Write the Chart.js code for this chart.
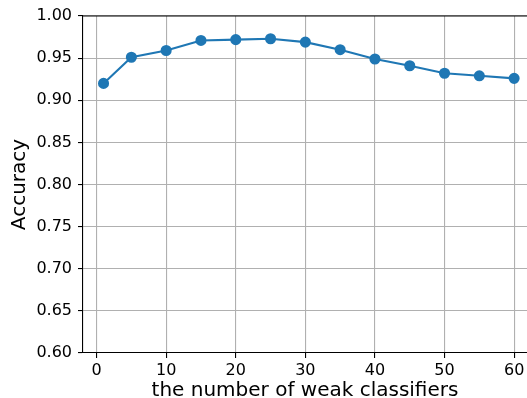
<!DOCTYPE html>
<html>
<head>
<meta charset="utf-8">
<script src="https://cdn.jsdelivr.net/npm/chart.js@4"></script>
<style>
  html, body { margin: 0; padding: 0; background: #fff; }
  #wrap { width: 527px; height: 398px; }
</style>
</head>
<body>
<div id="wrap"><canvas id="accChart" width="527" height="398"></canvas></div>
<script>
// number of weak classifiers vs accuracy
const numClassifiers = [1, 5, 10, 15, 20, 25, 30, 35, 40, 45, 50, 55, 60];
const accuracy = [0.920, 0.951, 0.959, 0.971, 0.972, 0.973, 0.969, 0.960, 0.949, 0.941, 0.932, 0.929, 0.926];
const xTicks = [0, 10, 20, 30, 40, 50, 60];
const yTicks = [0.60, 0.65, 0.70, 0.75, 0.80, 0.85, 0.90, 0.95, 1.00];

const FONT = 'DejaVu Sans';

// top spine (matplotlib style frame, right side is cut off in the picture)
const topSpine = {
  id: 'topSpine',
  afterDraw(chart) {
    const { ctx, chartArea } = chart;
    ctx.save();
    ctx.strokeStyle = '#000';
    ctx.lineWidth = 1.1;
    ctx.beginPath();
    ctx.moveTo(chartArea.left, chartArea.top);
    ctx.lineTo(chartArea.right, chartArea.top);
    ctx.stroke();
    ctx.restore();
  }
};

new Chart(document.getElementById('accChart'), {
  type: 'line',
  data: {
    datasets: [{
      data: numClassifiers.map((n, i) => ({ x: n, y: accuracy[i] })),
      borderColor: '#1f77b4',
      backgroundColor: '#1f77b4',
      borderWidth: 2.1,
      pointRadius: 4.5,
      pointHoverRadius: 4.5,
      tension: 0,
      fill: false
    }]
  },
  options: {
    responsive: false,
    animation: false,
    devicePixelRatio: 1,
    layout: { autoPadding: false, padding: { top: 16, right: 0, left: 0, bottom: 0 } },
    plugins: {
      legend: { display: false },
      tooltip: { enabled: false }
    },
    scales: {
      x: {
        type: 'linear',
        min: -1.95,
        max: 61.85,
        afterBuildTicks: s => { s.ticks = xTicks.map(v => ({ value: v })); },
        afterFit: s => { s.height = 45; s.paddingLeft = 0; s.paddingRight = 0; },
        grid: { color: '#b0b0b0', lineWidth: 1.1, tickColor: '#000', tickLength: 5 },
        border: { display: true, color: '#000', width: 1.1 },
        ticks: { color: '#000', padding: 3, maxRotation: 0, font: { family: FONT, size: 16 } },
        title: {
          display: true,
          text: 'the number of weak classifiers',
          color: '#000',
          font: { family: FONT, size: 20 },
          padding: { top: 0, bottom: -5 }
        }
      },
      y: {
        min: 0.6,
        max: 1.0,
        afterBuildTicks: s => { s.ticks = yTicks.map(v => ({ value: v })); },
        afterFit: s => { s.width = 83; },
        grid: { color: '#b0b0b0', lineWidth: 1.1, tickColor: '#000', tickLength: 5 },
        border: { display: true, color: '#000', width: 1.1 },
        ticks: {
          color: '#000',
          padding: 6,
          font: { family: FONT, size: 16 },
          callback: v => Number(v).toFixed(2)
        },
        title: {
          display: true,
          text: 'Accuracy',
          color: '#000',
          font: { family: FONT, size: 20 },
          padding: { top: 8, bottom: 0 }
        }
      }
    }
  },
  plugins: [topSpine]
});
</script>
</body>
</html>
